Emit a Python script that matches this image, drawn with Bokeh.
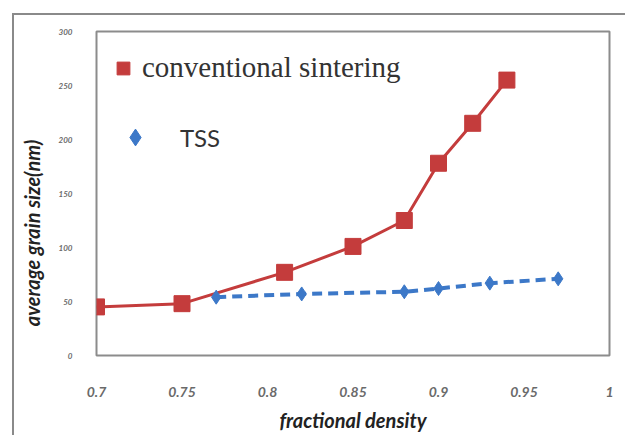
import math
from bokeh.plotting import figure
from bokeh.models import (Legend, LegendItem, FixedTicker, Range1d,
                          CustomJSTickFormatter, InlineStyleSheet)
from bokeh.embed import file_html
from bokeh.resources import INLINE

# data
conv_x = [0.70, 0.75, 0.81, 0.85, 0.88, 0.90, 0.92, 0.94]
conv_y = [45, 48, 77, 101, 125, 178, 215, 255]
tss_x = [0.77, 0.82, 0.88, 0.90, 0.93, 0.97]
tss_y = [54, 57, 59, 62, 67, 71]
x_ticks = [0.7, 0.75, 0.8, 0.85, 0.9, 0.95, 1.0]
y_ticks = [0, 50, 100, 150, 200, 250, 300]

RED = "#C43C3C"
BLUE = "#3C78C8"

p = figure(frame_width=513, frame_height=324, output_backend="svg",
           toolbar_location=None,
           x_range=Range1d(0.7, 1.0), y_range=Range1d(0, 300),
           min_border_left=96, min_border_right=16, min_border_top=31,
           min_border_bottom=80)
p.grid.visible = False
p.outline_line_color = "#8c8c8c"
p.outline_line_width = 2
p.background_fill_color = "white"
p.border_fill_color = "white"

for ax in (p.xaxis[0], p.yaxis[0]):
    ax.axis_line_color = None
    ax.major_tick_line_color = None
    ax.minor_tick_line_color = None
    ax.major_label_text_font = "Lato"
    ax.major_label_text_font_style = "bold italic"
    ax.major_label_text_color = "#6a6a6a"
    ax.axis_label_text_font = "Lato"
    ax.axis_label_text_font_style = "bold italic"
    ax.axis_label_text_color = "#222222"

p.xaxis.ticker = FixedTicker(ticks=x_ticks)
p.yaxis.ticker = FixedTicker(ticks=y_ticks)
p.xaxis.formatter = CustomJSTickFormatter(code="return String(parseFloat(tick.toFixed(2)));")
p.xaxis.major_label_text_font_size = "14px"
p.xaxis.major_label_standoff = 25
p.xaxis.axis_label = "fractional density"
p.xaxis.axis_label_text_font_size = "20px"
p.xaxis.axis_label_standoff = 8

ya = p.yaxis[0]
ya.major_label_text_font_size = "8px"
ya.major_label_standoff = 18
ya.major_label_orientation = "horizontal"
ya.axis_label_text_font_size = "20px"
ya.axis_label_standoff = 12
# trailing no-break spaces push the visible title lower, as in the reference
ya.axis_label = "average grain size(nm)" + "\u00a0" * 18

# outer frame (top and left edges visible, as in the reference)
p.stylesheets = [InlineStyleSheet(css=""":host::after {
  content: ''; position: absolute; left: 12px; top: 13px; right: 0; bottom: 0;
  border-top: 2px solid #8a8a8a; border-left: 2px solid #8a8a8a;
  pointer-events: none; z-index: 10;
}""")]

p.line(conv_x, conv_y, line_color=RED, line_width=3)
r_conv = p.scatter(conv_x, conv_y, marker="square", size=16,
                   fill_color=RED, line_color=RED)
p.line(tss_x, tss_y, line_color=BLUE, line_width=4, line_dash="10 6")
r_tss = p.scatter(tss_x, tss_y, marker="diamond", size=14,
                  fill_color=BLUE, line_color=BLUE)

leg1 = Legend(items=[LegendItem(label="conventional sintering", renderers=[r_conv])],
              location=(11, 271), padding=0, margin=0, border_line_color=None,
              background_fill_alpha=0, glyph_width=32, glyph_height=32,
              label_standoff=3, label_text_font="serif",
              label_text_font_size="29px", label_text_color="#333333")
leg2 = Legend(items=[LegendItem(label="TSS", renderers=[r_tss])],
              location=(18, 197), padding=0, margin=0, border_line_color=None,
              background_fill_alpha=0, glyph_width=42, glyph_height=42,
              label_standoff=24, label_text_font="Lato",
              label_text_font_size="24px", label_text_color="#333333")
p.add_layout(leg1)
p.add_layout(leg2)

open("out.html", "w").write(file_html(p, INLINE))
